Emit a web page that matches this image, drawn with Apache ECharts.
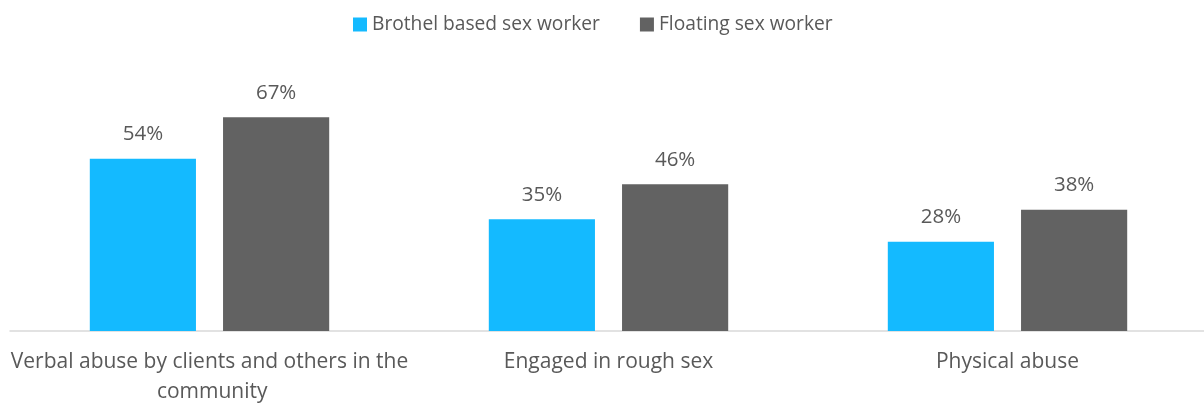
<!DOCTYPE html>
<html>
<head>
<meta charset="utf-8">
<script src="https://cdn.jsdelivr.net/npm/echarts@6/dist/echarts.min.js"></script>
<style>
  html, body { margin: 0; padding: 0; background: #ffffff; overflow: hidden; }
  #chart { width: 1204px; height: 403px; }
</style>
</head>
<body>
<div id="chart"></div>
<script>
// Abuse experienced, by type of sex work (%)
const categories = [
  'Verbal abuse by clients and others in the community',
  'Engaged in rough sex',
  'Physical abuse'
];
const seriesNames = ['Brothel based sex worker', 'Floating sex worker'];
const brothelValues = [54, 35, 28];
const floatingValues = [67, 46, 38];
const seriesColors = ['#14BAFF', '#626262'];

const FONT = '"Open Sans", "Liberation Sans", sans-serif';
const TEXT = '#595959';

const chart = echarts.init(document.getElementById('chart'), null, { renderer: 'canvas' });

const makeSeries = (name, values, color) => ({
  name: name,
  type: 'bar',
  data: values,
  barGap: '25.5%',
  barCategoryGap: '40%',
  itemStyle: { color: color },
  label: {
    show: true,
    position: 'top',
    distance: 14,
    formatter: '{c}%',
    color: TEXT,
    fontFamily: FONT,
    fontSize: 20.5
  },
  emphasis: { disabled: true }
});

chart.setOption({
  animation: false,
  legend: {
    top: 10,
    left: 348,
    itemWidth: 14,
    itemHeight: 14,
    itemGap: 40,
    icon: 'rect',
    textStyle: { color: TEXT, fontFamily: FONT, fontSize: 19.2 },
    data: seriesNames
  },
  grid: { left: 10, width: 1197, top: 12, bottom: 72, outerBoundsMode: 'none', containLabel: false },
  xAxis: {
    type: 'category',
    data: categories,
    axisLine: { show: true, lineStyle: { color: '#D9D9D9', width: 1.5 } },
    axisTick: { show: false },
    axisLabel: {
      color: TEXT,
      fontFamily: FONT,
      fontSize: 21,
      margin: 16,
      lineHeight: 30,
      width: 400,
      overflow: 'break',
      interval: 0
    }
  },
  yAxis: {
    type: 'value',
    min: 0,
    max: 100,
    show: false,
    splitLine: { show: false }
  },
  series: [
    makeSeries(seriesNames[0], brothelValues, seriesColors[0]),
    makeSeries(seriesNames[1], floatingValues, seriesColors[1])
  ]
});
</script>
</body>
</html>
